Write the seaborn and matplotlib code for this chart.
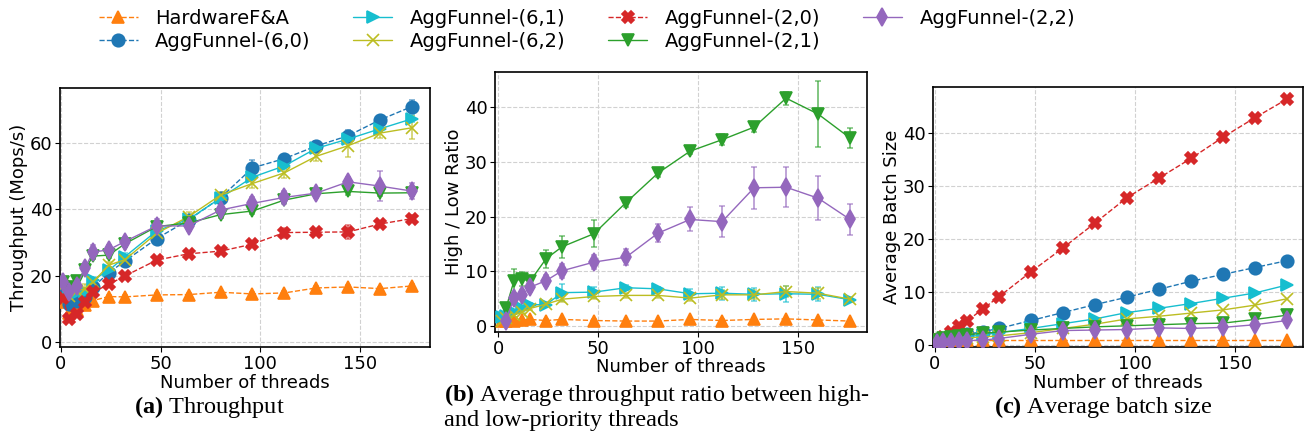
import matplotlib
matplotlib.use("Agg")
import matplotlib.pyplot as plt
import seaborn as sns

# -----------------------------
# data
# -----------------------------
threads = [1, 4, 8, 12, 16, 24, 32, 48, 64, 80, 96, 112, 128, 144, 160, 176]
threads_ratio = [2, 4, 8, 12, 16, 24, 32, 48, 64, 80, 96, 112, 128, 144, 160, 176]

labels = ["HardwareF&A", "AggFunnel-(6,0)", "AggFunnel-(6,1)", "AggFunnel-(6,2)",
          "AggFunnel-(2,0)", "AggFunnel-(2,1)", "AggFunnel-(2,2)"]

# (a) throughput, Mops/s
throughput = {
    "HardwareF&A":     [12.0, 8.6, 9.6, 11.2, 12.5, 13.7, 13.6, 14.2, 14.3, 15.0, 14.5, 14.8, 16.3, 16.6, 16.1, 16.9],
    "AggFunnel-(6,0)": [15.0, 11.5, 12.5, 13.5, 16.5, 20.9, 24.4, 31.2, 36.8, 43.5, 52.5, 55.3, 59.1, 62.2, 67.0, 71.0],
    "AggFunnel-(6,1)": [17.8, 14.2, 14.7, 15.2, 18.7, 21.6, 25.7, 33.5, 37.0, 43.4, 49.7, 53.1, 58.4, 61.2, 64.3, 67.3],
    "AggFunnel-(6,2)": [17.0, 14.0, 15.5, 16.0, 18.0, 23.2, 24.8, 32.8, 37.8, 44.3, 47.8, 51.0, 56.0, 59.2, 63.0, 64.6],
    "AggFunnel-(2,0)": [13.2, 6.8, 8.4, 12.0, 15.0, 17.4, 19.9, 24.7, 26.6, 27.4, 29.5, 33.0, 33.1, 33.2, 35.6, 37.2],
    "AggFunnel-(2,1)": [18.2, 16.5, 18.4, 21.7, 25.9, 26.2, 29.6, 34.8, 35.9, 38.4, 39.5, 42.8, 44.7, 45.4, 44.9, 45.0],
    "AggFunnel-(2,2)": [18.0, 15.0, 17.0, 22.2, 27.1, 27.8, 30.3, 35.0, 35.0, 39.8, 41.8, 43.6, 44.9, 48.3, 47.0, 45.5],
}
throughput_err = {
    "HardwareF&A":     [0.5, 0.5, 0.5, 0.5, 0.5, 0.5, 0.5, 0.5, 0.5, 0.5, 0.5, 0.5, 0.5, 0.5, 0.5, 0.5],
    "AggFunnel-(6,0)": [1.0, 1.0, 1.0, 1.0, 1.0, 1.0, 1.5, 1.0, 1.0, 1.0, 2.5, 1.0, 1.5, 1.8, 1.0, 2.0],
    "AggFunnel-(6,1)": [1.0, 1.0, 1.0, 1.0, 1.0, 1.0, 1.0, 1.0, 1.0, 1.0, 1.0, 1.0, 1.0, 1.0, 1.0, 1.0],
    "AggFunnel-(6,2)": [1.0, 1.0, 1.0, 1.5, 1.0, 1.0, 1.0, 1.0, 1.5, 1.0, 1.5, 1.5, 1.5, 3.5, 1.5, 3.5],
    "AggFunnel-(2,0)": [1.0, 0.8, 0.8, 0.8, 0.8, 0.8, 0.8, 0.8, 0.8, 0.8, 0.8, 1.5, 0.8, 2.0, 0.8, 1.0],
    "AggFunnel-(2,1)": [1.0, 1.0, 1.0, 1.0, 1.0, 1.0, 1.0, 1.0, 1.0, 1.0, 1.0, 1.0, 1.0, 1.0, 1.0, 1.0],
    "AggFunnel-(2,2)": [1.0, 1.0, 1.0, 1.0, 2.0, 1.5, 1.5, 2.0, 1.5, 1.0, 2.0, 2.0, 1.5, 1.5, 4.5, 2.5],
}

# (b) high / low throughput ratio (no priority split for (6,0) and (2,0))
ratio = {
    "HardwareF&A":     [0.9, 1.0, 1.0, 1.1, 1.2, 1.0, 1.2, 1.0, 0.9, 0.9, 1.2, 1.0, 1.2, 1.3, 1.1, 0.9],
    "AggFunnel-(6,1)": [1.6, 1.9, 2.6, 3.3, 3.9, 3.9, 6.1, 6.2, 7.0, 6.8, 5.9, 6.0, 5.8, 5.9, 5.8, 4.8],
    "AggFunnel-(6,2)": [1.0, 1.5, 2.0, 2.6, 3.2, 4.0, 4.9, 5.4, 5.6, 5.6, 5.1, 5.7, 5.7, 6.3, 6.0, 4.9],
    "AggFunnel-(2,1)": [float("nan"), 3.3, 8.3, 8.6, 8.2, 12.3, 14.5, 16.9, 22.6, 28.0, 32.0, 34.1, 36.4, 41.7, 38.8, 34.4],
    "AggFunnel-(2,2)": [float("nan"), 1.0, 5.1, 5.7, 7.1, 8.3, 10.1, 11.7, 12.6, 17.0, 19.5, 19.1, 25.3, 25.4, 23.4, 19.5],
}
ratio_err = {
    "HardwareF&A":     [0.2] * 16,
    "AggFunnel-(6,1)": [0.3, 0.3, 0.3, 0.3, 0.3, 0.3, 1.5, 1.0, 0.5, 0.4, 0.8, 1.2, 1.2, 1.5, 1.3, 0.4],
    "AggFunnel-(6,2)": [0.3, 0.3, 0.3, 0.3, 0.3, 0.3, 0.5, 0.5, 0.5, 0.4, 0.5, 0.8, 0.8, 1.0, 1.0, 0.4],
    "AggFunnel-(2,1)": [0.0, 0.5, 2.2, 1.3, 0.8, 1.7, 2.0, 2.5, 0.8, 0.8, 0.5, 1.0, 0.8, 1.2, 6.0, 1.8],
    "AggFunnel-(2,2)": [0.0, 0.3, 0.8, 0.8, 0.8, 1.0, 1.3, 1.3, 1.5, 1.6, 2.2, 2.8, 3.8, 3.7, 4.0, 2.8],
}

# (c) average batch size
batch = {
    "HardwareF&A":     [1.0] * 16,
    "AggFunnel-(6,0)": [1.0, 1.2, 1.4, 1.7, 2.0, 2.5, 3.1, 4.6, 6.1, 7.6, 9.0, 10.5, 12.0, 13.3, 14.6, 15.9],
    "AggFunnel-(6,1)": [1.0, 1.1, 1.2, 1.3, 1.5, 1.9, 2.3, 3.1, 4.0, 4.9, 6.1, 6.9, 7.8, 8.8, 9.8, 11.3],
    "AggFunnel-(6,2)": [1.0, 1.0, 1.1, 1.2, 1.3, 1.5, 1.7, 2.3, 3.1, 3.9, 4.9, 5.4, 6.0, 6.6, 7.5, 8.7],
    "AggFunnel-(2,0)": [1.0, 1.5, 2.5, 3.5, 4.5, 6.8, 9.1, 13.8, 18.3, 23.0, 27.8, 31.5, 35.2, 39.2, 42.9, 46.4],
    "AggFunnel-(2,1)": [1.0, 1.3, 1.5, 1.7, 1.9, 2.2, 2.4, 2.8, 3.1, 3.4, 3.6, 3.8, 4.0, 4.1, 4.8, 5.6],
    "AggFunnel-(2,2)": [0.3, 0.5, 0.6, 0.7, 0.8, 0.9, 1.2, 2.0, 2.7, 2.8, 2.9, 3.2, 3.1, 3.3, 3.8, 4.6],
}

colors = {
    "HardwareF&A": "tab:orange", "AggFunnel-(6,0)": "tab:blue", "AggFunnel-(6,1)": "tab:cyan",
    "AggFunnel-(6,2)": "tab:olive", "AggFunnel-(2,0)": "tab:red", "AggFunnel-(2,1)": "tab:green",
    "AggFunnel-(2,2)": "tab:purple",
}
markers = {
    "HardwareF&A": "^", "AggFunnel-(6,0)": "o", "AggFunnel-(6,1)": ">", "AggFunnel-(6,2)": "x",
    "AggFunnel-(2,0)": "X", "AggFunnel-(2,1)": "v", "AggFunnel-(2,2)": "d",
}
styles = {
    "HardwareF&A": "--", "AggFunnel-(6,0)": "--", "AggFunnel-(6,1)": "-", "AggFunnel-(6,2)": "-",
    "AggFunnel-(2,0)": "--", "AggFunnel-(2,1)": "-", "AggFunnel-(2,2)": "-",
}

# -----------------------------
# style
# -----------------------------
sns.set_style("ticks", {"axes.grid": True, "grid.linestyle": "--", "grid.color": ".82"})
plt.rcParams["font.family"] = ["DejaVu Sans"]
plt.rcParams["font.size"] = 13
plt.rcParams["text.color"] = "black"
plt.rcParams["axes.labelcolor"] = "black"
plt.rcParams["xtick.color"] = "black"
plt.rcParams["ytick.color"] = "black"
plt.rcParams["axes.edgecolor"] = "black"
plt.rcParams["axes.linewidth"] = 1.2
plt.rcParams["grid.linewidth"] = 0.8
plt.rcParams["mathtext.fontset"] = "custom"
plt.rcParams["mathtext.rm"] = "Liberation Serif"
plt.rcParams["mathtext.bf"] = "Liberation Serif:bold"

fig = plt.figure(figsize=(13.1, 4.37), dpi=100)
ax_a = fig.add_axes([0.0458, 0.206, 0.2824, 0.5927])
ax_b = fig.add_axes([0.3779, 0.2403, 0.2840, 0.5950])
ax_c = fig.add_axes([0.7122, 0.206, 0.2824, 0.5950])


def draw(ax, xs, values, errs):
    for name in labels:
        if name not in values:
            continue
        c = colors[name]
        sns.lineplot(x=xs, y=values[name], ax=ax, color=c, marker=markers[name],
                     linestyle=styles[name], linewidth=1.0, markersize=9,
                     markeredgecolor=c, markeredgewidth=1.2, label=name, zorder=3)
        if errs is not None:
            eb = ax.errorbar(xs, values[name], yerr=errs[name], fmt="none", ecolor=c,
                             elinewidth=1.4, capsize=2.5, capthick=1.2, zorder=2)
            for part in eb.lines[1] + eb.lines[2]:
                part.set_alpha(0.6)
    if ax.get_legend() is not None:
        ax.get_legend().remove()
    ax.set_xlabel("Number of threads", fontsize=13, labelpad=1)
    ax.set_xticks([0, 50, 100, 150])
    ax.tick_params(labelsize=13, pad=2)


draw(ax_a, threads, throughput, throughput_err)
ax_a.set_xlim(-0.5, 185)
ax_a.set_ylim(-1.5, 76.6)
ax_a.set_yticks([0, 20, 40, 60])
ax_a.set_ylabel("Throughput (Mops/s)", fontsize=13, labelpad=1)

draw(ax_b, threads_ratio, ratio, ratio_err)
ax_b.set_xlim(-1.5, 184.5)
ax_b.set_ylim(-1.1, 46.5)
ax_b.set_yticks([0, 10, 20, 30, 40])
ax_b.set_ylabel("High / Low Ratio", fontsize=13, labelpad=1)
ax_b.xaxis.labelpad = 0

draw(ax_c, threads, batch, None)
ax_c.set_xlim(-1, 184)
ax_c.set_ylim(-0.4, 48.7)
ax_c.set_yticks([0, 10, 20, 30, 40])
ax_c.set_ylabel("Average Batch Size", fontsize=13, labelpad=1)

# legend on top
handles, names = ax_a.get_legend_handles_labels()
fig.legend(handles[:7], names[:7], ncol=4, loc="upper left", bbox_to_anchor=(0.062, 1.02),
           frameon=False, fontsize=14, labelspacing=0.22, columnspacing=2.2,
           handlelength=2.0, handletextpad=0.9)

# sub-captions
serif = ["Liberation Serif", "DejaVu Serif"]
fig.text(0.16, 0.068, r"$\mathbf{(a)}$ Throughput", fontsize=17.5, family=serif,
         ha="center", va="center")
fig.text(0.339, 0.070, r"$\mathbf{(b)}$ Average throughput ratio between high-" + "\n" +
         "and low-priority threads", fontsize=17.5, family=serif, ha="left", va="center",
         linespacing=1.15)
fig.text(0.842, 0.068, r"$\mathbf{(c)}$ Average batch size", fontsize=17.5, family=serif,
         ha="center", va="center")

fig.savefig("out.png", dpi=100)
